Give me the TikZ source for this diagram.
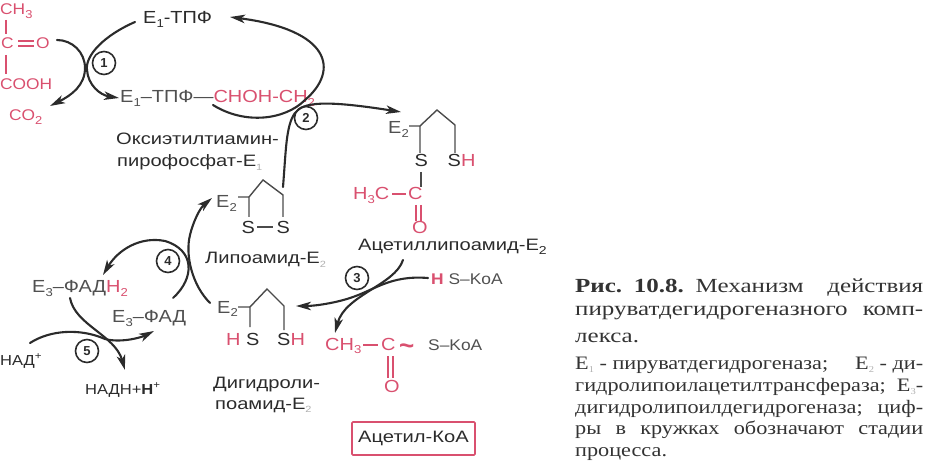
\documentclass[tikz,border=0pt]{standalone}
\usepackage{fontspec}
\setmainfont{Liberation Sans}
\newfontfamily\fwa[FakeStretch=1.14]{Liberation Sans}
\newfontfamily\fwb[FakeStretch=1.22]{Liberation Sans}
\newfontfamily\fwc[FakeStretch=1.12]{Liberation Sans}
\newfontfamily\capa[FakeStretch=1.25]{Liberation Serif}
\newfontfamily\capb[FakeStretch=1.17]{Liberation Serif}
\usetikzlibrary{arrows.meta}
\definecolor{rd}{HTML}{D9506F}
\definecolor{gt}{HTML}{505050}
\definecolor{dk}{HTML}{2B2B2B}
\definecolor{pale}{HTML}{B0B0B0}
\newcommand\redtxt[1]{\textcolor{rd}{#1}}
\newcommand\sbs[1]{\raisebox{-3.5pt}{\fontsize{11.5}{11.5}\selectfont #1}}
\newcommand\sbp[1]{\raisebox{-3.5pt}{\textcolor{pale}{\fontsize{9}{9}\selectfont #1}}}
\tikzset{
 lab/.style={anchor=base west,inner sep=0pt,text=gt,font=\fwa\fontsize{17.5}{19}\selectfont},
 dlab/.style={lab,text=dk,font=\fwb\fontsize{16.5}{19}\selectfont},
 rlab/.style={lab,text=rd},
 plab/.style={lab,font=\fwc\fontsize{15.5}{17}\selectfont},
 nlab/.style={lab,text=dk,font=\fwa\fontsize{14.5}{17}\selectfont},
 curve/.style={draw=dk,line width=2.1pt,line cap=round},
 arr/.style={curve,-{Stealth[length=15pt,width=8.5pt,inset=4pt]}},
 bond/.style={draw=dk!85!white,line width=1.4pt},
 rbond/.style={draw=rd,line width=1.6pt},
 stepc/.style={draw=dk,circle,line width=1.6pt,minimum size=23pt,inner sep=0pt,text=dk,font=\bfseries\fontsize{13}{13}\selectfont},
 capone/.style={anchor=base west,inner sep=0pt,text=black!80,font=\capa\fontsize{20}{22}\selectfont},
 captwo/.style={capone,font=\capb\fontsize{19}{22}\selectfont},
}
\newcommand\jl[1]{\hbox to 348pt{#1}}
\begin{document}
\begin{tikzpicture}[x=1pt,y=-1pt]
\useasboundingbox (0,0) rectangle (935,473);
% pyruvate
\node[plab,text=rd] (pch) at (0,15) {CH\sbs{3}};
\node[plab,text=rd] (pc) at (1,49) {C};
\node[plab,text=rd] (po) at (36,49) {O};
\node[plab,text=rd] (pcooh) at (0,90) {COOH};
\node[plab,text=rd] (co2) at (9,121) {CO\sbs{2}};
\coordinate (pa) at (6,20); \coordinate (pb) at (6,34);
\coordinate (pd) at (6,55); \coordinate (pe) at (6,74);
\draw[rbond] (pa)--(pb) (pd)--(pe);
\draw[rbond] (18,41)--(34,41) (18,46)--(34,46);
% E1 labels
\node[lab,text=dk] (e1top) at (143,24) {E\sbs{1}-ТПФ};
\node[lab] (e1mid) at (120,103) {E\sbs{1}–ТПФ—\redtxt{CHOH-CH\sbs{2}}};
\node[dlab] (oxy1) at (116,145) {Оксиэтилтиамин-};
\node[dlab] (oxy2) at (117,167) {пирофосфат-E\sbp{1}};
% steps
\node[stepc] (c1) at (104,63) {1};
\node[stepc] (c2) at (306,118) {2};
\node[stepc] (c3) at (357,278) {3};
\node[stepc] (c4) at (168,261) {4};
\node[stepc] (c5) at (87,351) {5};
% ends
\coordinate (a1s) at (135,22); \coordinate (a1e) at (119,98);
\coordinate (a2s) at (57,40); \coordinate (a2e) at (50,106);
\coordinate (a3s) at (213,105); \coordinate (a3e) at (230,17);
\coordinate (a4s) at (283,187); \coordinate (a4e) at (401,112);
\coordinate (a5s) at (210,303); \coordinate (a5e) at (212,198);
\coordinate (a6s) at (173,298); \coordinate (a6e) at (103,275);
\coordinate (a7s) at (70,298); \coordinate (a7e) at (125,370);
\coordinate (a8s) at (30,343); \coordinate (a8e) at (154,331);
\coordinate (a9s) at (428,278); \coordinate (a9e) at (296,306);
\coordinate (a10s) at (403,260); \coordinate (a10e) at (335,333);
\draw[arr] (a1s) .. controls (105,35) and (85,55) .. (87,70) .. controls (88,85) and (100,95) .. (a1e);
\draw[arr] (a2s) .. controls (72,40) and (85,52) .. (85,68) .. controls (85,85) and (72,95) .. (a2e);
\draw[arr] (a3s) .. controls (245,125) and (285,120) .. (305,100) .. controls (340,70) and (330,30) .. (a3e);
\draw[arr] (a4s) .. controls (286,150) and (286,125) .. (295,113) .. controls (303,102) and (325,100) .. (a4e);
\draw[arr] (a5s) .. controls (192,285) and (185,255) .. (190,235) .. controls (193,222) and (200,208) .. (a5e);
\draw[arr] (a6s) .. controls (195,278) and (195,250) .. (165,241) .. controls (140,236) and (118,250) .. (a6e);
\draw[arr] (a7s) .. controls (75,325) and (115,335) .. (a7e);
\draw[arr] (a8s) .. controls (50,330) and (80,328) .. (105,339) .. controls (120,343) and (140,338) .. (a8e);
\draw[arr] (a9s) .. controls (390,275) and (375,290) .. (350,298) .. controls (335,303) and (315,306) .. (a9e);
\draw[arr] (a10s) .. controls (395,285) and (345,295) .. (a10e);
% lipoamide
\node[lab] (l2) at (216,208) {E\sbs{2}};
\coordinate (la) at (238,197); \coordinate (lb) at (249,197); \coordinate (lc) at (263,180);
\coordinate (ld) at (283,195); \coordinate (le) at (283,217); \coordinate (lf) at (249,217);
\draw[bond] (la)--(lb)--(lc)--(ld)--(le) (lb)--(lf);
\node[lab,text=dk] (ls1) at (241.5,234) {S};
\node[lab,text=dk] (ls2) at (276.5,234) {S};
\coordinate (lg) at (257,227); \coordinate (lh) at (273,227);
\draw[bond] (lg)--(lh);
\node[dlab] (lname) at (205,264) {Липоамид-E\sbp{2}};
% acetyl lipoamide
\node[lab] (al2) at (388,134) {E\sbs{2}};
\coordinate (ala) at (409,126); \coordinate (alb) at (420,126); \coordinate (alc) at (437,110);
\coordinate (ald) at (455,125); \coordinate (ale) at (455,153); \coordinate (alf) at (420,153);
\draw[bond] (ala)--(alb)--(alc)--(ald)--(ale) (alb)--(alf);
\node[lab,text=dk] (als) at (414.5,167) {S};
\node[lab,text=dk] (alsh) at (447.5,167) {S\redtxt{H}};
\coordinate (alg) at (421,172); \coordinate (alh) at (421,187);
\draw[bond] (alg)--(alh);
\node[rlab] (alme) at (353,200) {H\sbs{3}C};
\node[rlab] (alc2) at (408,200) {C};
\node[rlab] (alo) at (412,234) {O};
\draw[rbond] (392,194)--(406,194) (416,205)--(416,221) (421,205)--(421,221);
\node[dlab] (alname) at (358,251) {Ацетиллипоамид-E\sbs{2}};
% HS-KoA
\node[lab,font=\fwc\fontsize{15.5}{17}\selectfont] (hs) at (431,285) {\redtxt{\textbf{H}} S–KoA};
% acetyl-CoA
\node[rlab] (cme) at (325,350) {CH\sbs{3}};
\node[rlab] (cc) at (381,350) {C};
\node[rlab] (co) at (384,392) {O};
\node[lab,text=rd,font=\bfseries\fontsize{26}{26}\selectfont] (ctil) at (399,354) {\textasciitilde};
\node[lab,font=\fwc\fontsize{15.5}{17}\selectfont] (cs) at (428,350) {S–KoA};
\draw[rbond] (363,345)--(378,345) (388,356)--(388,378) (393,356)--(393,378);
\node[draw=rd,line width=1.6pt,rounded corners=1pt,minimum width=123pt,minimum height=33pt,inner sep=0pt,text=dk,font=\fwb\fontsize{16.5}{19}\selectfont] (box) at (413.5,438.5) {Ацетил-КоА};
% dihydrolipoamide
\node[lab] (d2) at (217,313) {E\sbs{2}};
\coordinate (da) at (238,307); \coordinate (db) at (250,307); \coordinate (dc) at (267,289);
\coordinate (dd) at (284,306); \coordinate (de) at (284,330); \coordinate (df) at (250,327);
\draw[bond] (da)--(db)--(dc)--(dd)--(de) (db)--(df);
\node[lab,text=dk] (ds1) at (226,345) {\redtxt{H} S};
\node[lab,text=dk] (ds2) at (277,345) {S\redtxt{H}};
\node[dlab] (dn1) at (213,388) {Дигидроли-};
\node[dlab] (dn2) at (215,409) {поамид-E\sbp{2}};
% E3
\node[lab] (fh) at (32,293) {E\sbs{3}–ФАД\redtxt{H\sbs{2}}};
\node[lab] (f) at (112,323) {E\sbs{3}–ФАД};
\node[nlab] (nad) at (0,365) {НАД\textsuperscript{+}};
\node[nlab] (nadh) at (85,394) {НАДН+\textbf{Н}\textsuperscript{+}};
% caption
\node[capone] (t1) at (575,293) {\jl{\textbf{Рис.\hfill 10.8.}\hfill Механизм\hfill\hfill действия}};
\node[capone] (t2) at (575,316) {\jl{пируватдегидрогеназного\hfill комп-}};
\node[capone] (t3) at (575,342) {лекса.};
\node[captwo] (t4) at (575,369) {\jl{E\sbp{1} - пируватдегидрогеназа;\hfill E\sbp{2} - ди-}};
\node[captwo] (t5) at (575,391) {\jl{гидролипоилацетилтрансфераза;\hfill E\sbp{3}-}};
\node[captwo] (t6) at (575,413) {\jl{дигидролипоилдегидрогеназа;\hfill циф-}};
\node[captwo] (t7) at (575,434) {\jl{ры\hfill в\hfill кружках\hfill обозначают\hfill стадии}};
\node[captwo] (t8) at (575,456) {процесса.};
\end{tikzpicture}
\end{document}
